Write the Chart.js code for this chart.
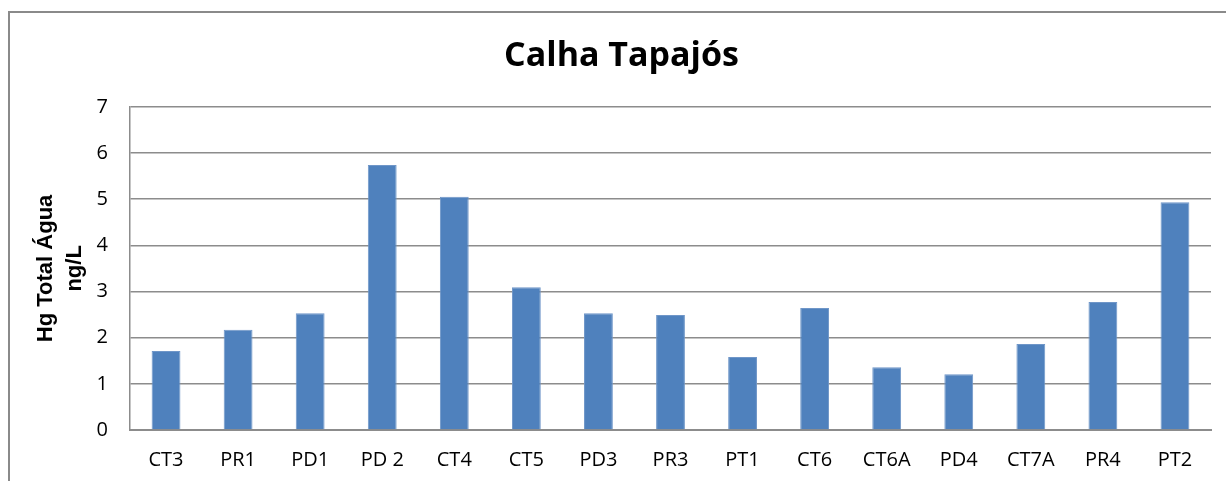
<!DOCTYPE html>
<html>
<head>
<meta charset="utf-8">
<script src="https://cdn.jsdelivr.net/npm/chart.js@4/dist/chart.umd.min.js"></script>
<style>
  html, body { margin: 0; padding: 0; background: #fff; overflow: hidden; }
  #wrap { position: relative; width: 1226px; height: 481px; }
  #frame { position: absolute; left: 8px; top: 11px; width: 1400px; height: 600px;
           border-left: 2px solid #8a8a8a; border-top: 2px solid #8a8a8a; }
  #chart { position: absolute; left: 0; top: 0; }
</style>
</head>
<body>
<div id="wrap">
  <div id="frame"></div>
  <canvas id="chart" width="1226" height="481"></canvas>
</div>
<script>
// pontos de coleta - Calha Tapajós
var stations = ["CT3","PR1","PD1","PD 2","CT4","CT5","PD3","PR3","PT1","CT6","CT6A","PD4","CT7A","PR4","PT2"];
var hgTotal = [1.71, 2.17, 2.53, 5.74, 5.05, 3.09, 2.53, 2.49, 1.58, 2.64, 1.36, 1.21, 1.86, 2.77, 4.93];
var yTicks = [0, 1, 2, 3, 4, 5, 6, 7];

var gridGrey = '#8c8c8c';

new Chart(document.getElementById('chart'), {
  type: 'bar',
  data: {
    labels: stations,
    datasets: [{
      label: 'Hg Total Água ng/L',
      data: hgTotal,
      backgroundColor: '#4F81BD',
      borderColor: '#6f96c8',
      borderWidth: 1,
      barPercentage: 0.4,
      categoryPercentage: 1
    }]
  },
  options: {
    responsive: false,
    animation: false,
    layout: { padding: { left: 32, right: 15, top: 36, bottom: 0 } },
    plugins: {
      legend: { display: false },
      tooltip: { enabled: false },
      title: {
        display: true,
        text: 'Calha Tapajós',
        color: '#000',
        font: { family: 'Open Sans', size: 34, weight: 'bold' },
        padding: { top: 0, bottom: 30 }
      }
    },
    scales: {
      x: {
        afterFit: function(scale) { scale.height = 51; },
        grid: { display: false },
        border: { display: true, color: gridGrey, width: 2 },
        ticks: {
          color: '#000',
          font: { family: 'Open Sans', size: 20 },
          padding: 10,
          maxRotation: 0,
          autoSkip: false
        }
      },
      y: {
        min: 0,
        max: 7,
        afterFit: function(scale) { scale.width = 98; },
        afterBuildTicks: function(scale) {
          scale.ticks = yTicks.map(function(v) { return { value: v }; });
        },
        grid: { color: gridGrey, lineWidth: 1.5, drawTicks: false },
        border: { display: true, color: gridGrey, width: 1.5 },
        ticks: {
          color: '#000',
          font: { family: 'Open Sans', size: 20 },
          padding: 22
        },
        title: {
          display: true,
          text: ['Hg Total Água', 'ng/L'],
          color: '#000',
          font: { family: 'Liberation Sans', size: 22, weight: 'bold', lineHeight: 1.3 },
          padding: { top: 0, bottom: 12 }
        }
      }
    }
  }
});
</script>
</body>
</html>
